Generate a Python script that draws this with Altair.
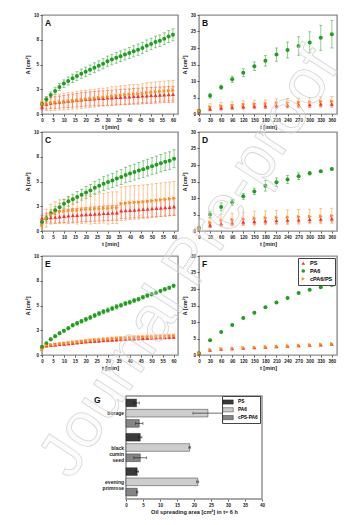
import altair as alt
import pandas as pd

FONT = "Liberation Sans"

# ---------------- data ----------------
samples = ["PS", "PA6", "cPA6/PS"]
sample_colors = ["#ff2b2b", "#1f9e1f", "#ff8c1a"]
sample_shapes = ["triangle-up", "circle", "triangle-right"]

t_min = [0, 2, 4, 6, 8, 10, 12, 14, 16, 18, 20, 22, 24, 26, 28, 30,
         32, 34, 36, 38, 40, 42, 44, 46, 48, 50, 52, 54, 56, 58, 60]
t_long = [0, 30, 60, 90, 120, 150, 180, 210, 240, 270, 300, 330, 360]
ticks_min = [0, 5, 10, 15, 20, 25, 30, 35, 40, 45, 50, 55, 60]
ticks_long = [0, 30, 60, 90, 120, 150, 180, 210, 240, 270, 300, 330, 360]
ticks_a10 = [0, 2.5, 5, 7.5, 10]
ticks_a30 = [0, 5, 10, 15, 20, 25, 30]

# Panel A
psA = [0.7, 1.0, 1.1, 1.15, 1.2, 1.25, 1.3, 1.35, 1.4, 1.45, 1.5, 1.52, 1.55, 1.58, 1.6, 1.63,
       1.65, 1.68, 1.7, 1.73, 1.75, 1.78, 1.8, 1.83, 1.85, 1.88, 1.9, 1.93, 1.95, 1.98, 2.0]
psA_err = [0.3, 0.5, 0.55, 0.6, 0.6, 0.62, 0.64, 0.66, 0.68, 0.7, 0.7, 0.72, 0.72, 0.74, 0.74, 0.75,
           0.76, 0.76, 0.77, 0.78, 0.78, 0.79, 0.8, 0.8, 0.8, 0.8, 0.8, 0.8, 0.8, 0.8, 0.8]
pa6A = [1.0, 1.5, 1.93, 2.33, 2.73, 3.07, 3.33, 3.6, 3.83, 4.07, 4.27, 4.47, 4.67, 4.87, 5.07, 5.33,
        5.5, 5.67, 5.83, 6.0, 6.17, 6.33, 6.5, 6.67, 6.9, 7.07, 7.27, 7.4, 7.6, 7.83, 8.0]
pa6A_err = [0.2, 0.25, 0.3, 0.33, 0.36, 0.38, 0.4, 0.42, 0.44, 0.46, 0.47, 0.48, 0.5, 0.5, 0.52, 0.52,
            0.53, 0.54, 0.55, 0.55, 0.56, 0.56, 0.57, 0.57, 0.58, 0.58, 0.59, 0.59, 0.6, 0.6, 0.6]
cpA = [1.0, 1.05, 1.1, 1.15, 1.2, 1.25, 1.3, 1.35, 1.4, 1.45, 1.5, 1.55, 1.6, 1.65, 1.7, 1.75,
       1.8, 1.85, 1.9, 1.95, 2.0, 2.02, 2.05, 2.1, 2.15, 2.2, 2.25, 2.28, 2.32, 2.36, 2.4]
cpA_err = [0.3, 0.7, 0.75, 0.8, 0.8, 0.85, 0.85, 0.85, 0.9, 0.9, 0.9, 0.9, 0.9, 0.9, 0.9, 0.9,
           0.95, 0.95, 0.95, 0.95, 0.95, 0.95, 0.95, 0.95, 1.0, 1.0, 1.0, 1.0, 1.0, 1.0, 1.0]

# Panel B
psB = [0.6, 1.6, 1.9, 2.1, 2.3, 2.4, 2.5, 2.6, 2.7, 2.8, 2.9, 3.0, 3.0]
psB_err = [0.2, 0.6, 0.7, 0.7, 0.8, 0.8, 0.8, 0.8, 0.8, 0.9, 0.9, 0.9, 0.9]
pa6B = [0.9, 5.5, 8.1, 10.5, 12.5, 14.5, 16.1, 18.0, 19.4, 20.6, 21.7, 23.1, 24.2]
pa6B_err = [0.3, 0.7, 0.6, 0.9, 1.2, 1.3, 1.6, 2.0, 2.4, 2.8, 3.2, 3.8, 4.2]
cpB = [0.9, 2.1, 2.4, 2.6, 2.8, 3.0, 3.1, 3.3, 3.4, 3.5, 3.6, 3.8, 3.9]
cpB_err = [0.2, 1.0, 1.1, 1.1, 1.2, 1.2, 1.2, 1.3, 1.3, 1.3, 1.4, 1.4, 1.4]

# Panel C
psC = [1.3, 1.3, 1.35, 1.4, 1.45, 1.5, 1.55, 1.58, 1.6, 1.63, 1.66, 1.7, 1.72, 1.75, 1.78, 1.8,
       1.83, 1.85, 2.05, 2.08, 2.1, 2.13, 2.16, 2.2, 2.23, 2.26, 2.3, 2.33, 2.37, 2.4, 2.45]
psC_err = [0.3, 0.5, 0.55, 0.6, 0.6, 0.65, 0.65, 0.7, 0.7, 0.7, 0.7, 0.72, 0.72, 0.74, 0.74, 0.75,
           0.75, 0.76, 0.78, 0.8, 0.8, 0.8, 0.82, 0.82, 0.84, 0.84, 0.85, 0.85, 0.86, 0.86, 0.87]
pa6C = [0.9, 1.3, 1.8, 2.1, 2.4, 2.75, 3.0, 3.2, 3.43, 3.67, 3.9, 4.1, 4.37, 4.58, 4.78, 4.95,
        5.1, 5.3, 5.45, 5.65, 5.8, 5.95, 6.1, 6.25, 6.4, 6.55, 6.7, 6.85, 7.0, 7.1, 7.3]
pa6C_err = [0.2, 0.3, 0.35, 0.4, 0.4, 0.45, 0.5, 0.5, 0.55, 0.55, 0.6, 0.6, 0.65, 0.65, 0.7, 0.7,
            0.72, 0.74, 0.76, 0.78, 0.8, 0.8, 0.82, 0.84, 0.85, 0.86, 0.87, 0.88, 0.89, 0.9, 0.9]
cpC = [0.6, 1.3, 1.7, 1.85, 1.95, 2.0, 2.05, 2.1, 2.1, 2.15, 2.2, 2.2, 2.25, 2.25, 2.3, 2.3,
       2.35, 2.35, 2.75, 2.8, 2.85, 2.9, 2.9, 2.95, 3.0, 3.05, 3.1, 3.15, 3.2, 3.25, 3.3]
cpC_err = [0.3, 0.9, 1.0, 1.1, 1.2, 1.2, 1.3, 1.3, 1.4, 1.4, 1.4, 1.5, 1.5, 1.5, 1.5, 1.6,
           1.6, 1.6, 1.7, 1.7, 1.7, 1.7, 1.7, 1.7, 1.7, 1.7, 1.7, 1.7, 1.7, 1.7, 1.7]

# Panel D
psD = [0.6, 1.8, 2.3, 2.5, 2.7, 2.9, 3.1, 3.2, 3.3, 3.4, 3.5, 3.6, 3.7]
psD_err = [0.2, 0.7, 0.8, 0.8, 0.8, 0.8, 0.9, 0.9, 0.9, 0.9, 0.9, 0.9, 0.9]
pa6D = [0.9, 5.0, 7.3, 8.7, 10.5, 12.0, 13.7, 14.8, 15.6, 16.6, 17.5, 18.1, 18.8]
pa6D_err = [0.3, 1.0, 1.2, 0.9, 0.9, 1.0, 1.6, 1.3, 1.2, 1.0, 0.5, 0.3, 0.3]
cpD = [0.8, 2.6, 3.3, 3.5, 3.7, 3.9, 4.0, 4.1, 4.2, 4.3, 4.4, 4.5, 4.6]
cpD_err = [0.2, 1.5, 1.8, 1.9, 2.0, 2.1, 2.1, 2.1, 2.2, 2.2, 2.2, 2.3, 2.3]

# Panel E
psE = [0.85, 0.93, 0.98, 1.03, 1.08, 1.12, 1.16, 1.2, 1.25, 1.3, 1.35, 1.38, 1.41, 1.45, 1.48, 1.51,
       1.54, 1.57, 1.6, 1.62, 1.64, 1.66, 1.68, 1.7, 1.72, 1.74, 1.76, 1.78, 1.8, 1.82, 1.84]
psE_err = [0.1, 0.11, 0.11, 0.12, 0.12, 0.13, 0.13, 0.14, 0.14, 0.14, 0.15, 0.15, 0.15, 0.16, 0.16, 0.16,
           0.17, 0.17, 0.17, 0.17, 0.18, 0.18, 0.18, 0.18, 0.18, 0.18, 0.18, 0.18, 0.18, 0.18, 0.18]
pa6E = [0.8, 1.17, 1.58, 1.9, 2.2, 2.45, 2.7, 3.0, 3.2, 3.4, 3.6, 3.8, 4.0, 4.2, 4.37, 4.53,
        4.7, 4.87, 5.03, 5.2, 5.33, 5.5, 5.64, 5.84, 6.0, 6.14, 6.3, 6.47, 6.64, 6.8, 7.0]
pa6E_err = [0.1, 0.15, 0.15, 0.15, 0.15, 0.15, 0.17, 0.17, 0.18, 0.18, 0.2, 0.2, 0.2, 0.2, 0.22, 0.22,
            0.22, 0.22, 0.2, 0.2, 0.2, 0.2, 0.18, 0.18, 0.18, 0.18, 0.16, 0.16, 0.16, 0.15, 0.15]
cpE = [0.55, 0.97, 1.02, 1.07, 1.12, 1.17, 1.22, 1.27, 1.32, 1.37, 1.42, 1.46, 1.5, 1.54, 1.57, 1.6,
       1.63, 1.66, 1.69, 1.71, 1.73, 1.75, 1.77, 1.79, 1.81, 1.83, 1.85, 1.87, 1.89, 1.9, 1.92]
cpE_err = [0.1, 0.12, 0.12, 0.13, 0.13, 0.14, 0.14, 0.15, 0.15, 0.15, 0.16, 0.16, 0.16, 0.17, 0.17, 0.17,
           0.18, 0.18, 0.18, 0.18, 0.19, 0.19, 0.19, 0.19, 0.2, 0.2, 0.2, 0.2, 0.2, 0.2, 0.2]

# Panel F
psF = [0.4, 1.5, 1.8, 2.0, 2.1, 2.3, 2.4, 2.6, 2.7, 2.9, 3.0, 3.1, 3.3]
pa6F = [0.5, 4.5, 7.0, 9.1, 11.2, 12.8, 14.5, 15.9, 17.3, 18.8, 19.8, 20.5, 21.2]
cpF = [0.5, 1.6, 1.9, 2.0, 2.2, 2.3, 2.5, 2.6, 2.7, 2.9, 3.0, 3.2, 3.4]
zero_err = [0, 0, 0, 0, 0, 0, 0, 0, 0, 0, 0, 0, 0]

# Panel G
g_cats = ["borage", "black cumin seed", "evening primrose"]
g_series = ["PS", "PA6", "cPS-PA6"]
g_colors = ["#3a3a3a", "#cdcdcd", "#858585"]
g_ps = [3.1, 4.2, 3.3]
g_ps_err = [0.8, 0.5, 0.4]
g_pa6 = [24.1, 18.7, 21.1]
g_pa6_err = [4.4, 0.2, 0.3]
g_cp = [3.9, 4.2, 3.3]
g_cp_err = [1.1, 1.9, 0.2]
g_ticks = [0, 5, 10, 15, 20, 25, 30, 35, 40]


# ---------------- helpers ----------------
def long_df(t, series):
    rows = []
    for name, (vals, errs) in zip(samples, series):
        assert len(vals) == len(t) == len(errs), name
        for ti, v, e in zip(t, vals, errs):
            rows.append({"t": ti, "A": v, "lo": v - e, "hi": v + e, "sample": name})
    return pd.DataFrame(rows)


def time_panel(df, letter, xmax, xticks, ymax, yticks, width, height, legend=None, errors=True):
    xs = alt.Scale(domain=[0, xmax], nice=False, zero=False)
    ys = alt.Scale(domain=[0, ymax], nice=False, zero=False)
    xax = alt.Axis(values=xticks, title="t [min]", format="~r", labelOverlap=False, labelFlush=False)
    yax = alt.Axis(values=yticks, title="A [cm²]", format="~r", labelOverlap=False, labelFlush=False)
    cscale = alt.Scale(domain=samples, range=sample_colors)
    sscale = alt.Scale(domain=samples, range=sample_shapes)
    base = alt.Chart(df)
    layers = []
    if errors:
        layers.append(
            base.mark_errorbar(ticks=True, size=3, thickness=0.9, opacity=0.55).encode(
                x=alt.X("t:Q", scale=xs, axis=xax),
                y=alt.Y("lo:Q", scale=ys, axis=yax),
                y2="hi:Q",
                color=alt.Color("sample:N", scale=cscale, legend=None),
            )
        )
    layers.append(
        base.mark_point(filled=True, size=16, opacity=1).encode(
            x=alt.X("t:Q", scale=xs, axis=xax),
            y=alt.Y("A:Q", scale=ys, axis=yax),
            color=alt.Color("sample:N", scale=cscale, legend=legend),
            shape=alt.Shape("sample:N", scale=sscale, legend=legend),
        )
    )
    layers.append(
        alt.Chart(pd.DataFrame({"L": [letter]})).mark_text(
            align="left", baseline="top", font=FONT, fontSize=8.5, fontWeight="bold", color="#111"
        ).encode(text="L:N", x=alt.value(3), y=alt.value(3.5))
    )
    return alt.layer(*layers).properties(width=width, height=height)


def spacer(w, h):
    return alt.Chart(pd.DataFrame({"a": [0]})).mark_point(opacity=0).encode(
        x=alt.X("a:Q", axis=None), y=alt.Y("a:Q", axis=None)
    ).properties(width=w, height=h, view=alt.ViewBackground(stroke=None))


dfA = long_df(t_min, [(psA, psA_err), (pa6A, pa6A_err), (cpA, cpA_err)])
dfB = long_df(t_long, [(psB, psB_err), (pa6B, pa6B_err), (cpB, cpB_err)])
dfC = long_df(t_min, [(psC, psC_err), (pa6C, pa6C_err), (cpC, cpC_err)])
dfD = long_df(t_long, [(psD, psD_err), (pa6D, pa6D_err), (cpD, cpD_err)])
dfE = long_df(t_min, [(psE, psE_err), (pa6E, pa6E_err), (cpE, cpE_err)])
dfF = long_df(t_long, [(psF, zero_err), (pa6F, zero_err), (cpF, zero_err)])

W1, W2, H = 136, 138, 99

pA = time_panel(dfA, "A", 62.3, ticks_min, 10, ticks_a10, W1, H)
pB = time_panel(dfB, "B", 374, ticks_long, 30, ticks_a30, W2, H)
pC = time_panel(dfC, "C", 61.8, ticks_min, 10, ticks_a10, W1, H)
pD = time_panel(dfD, "D", 374, ticks_long, 30, ticks_a30, W2, H)
pE = time_panel(dfE, "E", 62, ticks_min, 10, ticks_a10, W1, H)
f_legend = alt.Legend(
    title=None, orient="top-right", offset=2, padding=2.5, strokeColor="#444", fillColor="white",
    labelFontSize=5.5, labelFont=FONT, labelFontWeight="bold", symbolSize=13, rowPadding=0.8,
    symbolStrokeWidth=0, labelOffset=4,
)
pF = time_panel(dfF, "F", 374, ticks_long, 30, ticks_a30, W2, H, legend=f_legend, errors=False)

# ---- panel G ----
g_rows = []
for s, vals, errs in [("PS", g_ps, g_ps_err), ("PA6", g_pa6, g_pa6_err), ("cPS-PA6", g_cp, g_cp_err)]:
    for c, v, e in zip(g_cats, vals, errs):
        g_rows.append({"cat": c, "series": s, "val": v, "lo": v - e, "hi": v + e})
g_df = pd.DataFrame(g_rows)

GW, GH = 136, 103
gx = alt.Scale(domain=[0, 40], range=[84, 220], nice=False, zero=True)
gy = alt.Scale(domain=g_cats, paddingInner=0.12, paddingOuter=0.06)
gyo = alt.Scale(domain=g_series, paddingInner=0.25, paddingOuter=0.1)
gx_axis = alt.Axis(values=g_ticks, format="~r", labelOverlap=False, labelFlush=False,
                   title="Oil spreading area [cm²] in t= 6 h")
gy_axis = alt.Axis(title=None, offset=-84, ticks=False, labelPadding=2.5,
                   labelExpr="split(datum.value, ' ')", labelFontSize=5, labelLineHeight=6)

g_bars = alt.Chart(g_df).mark_bar(stroke="#111", strokeWidth=0.4).encode(
    x=alt.X("val:Q", scale=gx, axis=gx_axis),
    y=alt.Y("cat:N", scale=gy, axis=gy_axis),
    yOffset=alt.YOffset("series:N", scale=gyo),
    color=alt.Color("series:N", scale=alt.Scale(domain=g_series, range=g_colors),
                    legend=alt.Legend(title=None, orient="none", legendX=180, legendY=0, padding=2,
                                      strokeColor="#444", fillColor="white", labelFontSize=4.8,
                                      labelFont=FONT, labelFontWeight="bold",
                                      symbolType="M-1.5,-0.6L1.5,-0.6L1.5,0.6L-1.5,0.6Z",
                                      symbolSize=49, symbolStrokeColor="#111",
                                      symbolStrokeWidth=0.4, rowPadding=0.8, labelOffset=6)),
)
g_err = alt.Chart(g_df).mark_rule(color="#111", strokeWidth=0.6).encode(
    x=alt.X("lo:Q", scale=gx, axis=gx_axis), x2="hi:Q",
    y=alt.Y("cat:N", scale=gy, axis=gy_axis),
    yOffset=alt.YOffset("series:N", scale=gyo),
)
g_caps = alt.Chart(g_df).transform_fold(["lo", "hi"]).mark_tick(
    color="#111", size=3, thickness=0.6, orient="vertical"
).encode(
    x=alt.X("value:Q", scale=gx, axis=gx_axis),
    y=alt.Y("cat:N", scale=gy, axis=gy_axis),
    yOffset=alt.YOffset("series:N", scale=gyo),
)
g_frame = alt.Chart(pd.DataFrame({"a": [0]})).mark_rect(
    fillOpacity=0, stroke="#8c8c8c", strokeWidth=1.4
).encode(
    x=alt.XDatum(0, scale=gx, axis=gx_axis), x2=alt.X2Datum(40),
    y=alt.value(0), y2=alt.value(GH),
)
g_letter = alt.Chart(pd.DataFrame({"L": ["G"]})).mark_text(
    align="left", baseline="top", font=FONT, fontSize=8.5, fontWeight="bold", color="#111"
).encode(text="L:N", x=alt.value(52), y=alt.value(-0.5))
watermark = alt.Chart(pd.DataFrame({"w": ["Journal Pre-proof"]})).mark_text(
    angle=303, font=FONT, fontSize=64, align="center", baseline="middle",
    fill="#eeeeee", fillOpacity=0.25, stroke="#cccccc", strokeWidth=0.8, strokeOpacity=0.8,
).encode(text="w:N", x=alt.value(148), y=alt.value(-133))

pG = alt.layer(g_frame, g_bars, g_err, g_caps, g_letter, watermark).properties(
    width=GW, height=GH, view=alt.ViewBackground(stroke=None)
)

chart = alt.concat(
    pA, pB,
    spacer(W1, 18), spacer(W2, 18),
    pC, pD,
    spacer(W1, 25), spacer(W2, 25),
    pE, pF,
    spacer(W1, 41), spacer(W2, 41),
    pG,
    columns=2, spacing={"row": 0, "column": 21}, bounds="flush", align="each",
).resolve_scale(
    color="independent", shape="independent", x="independent", y="independent"
).properties(
    padding={"left": 17, "top": 3, "right": 2, "bottom": 2}
).configure_axis(
    labelFont=FONT, titleFont=FONT, labelFontSize=4.6, titleFontSize=5.6,
    labelFontWeight="bold", titleFontWeight="bold", labelColor="#222", titleColor="#222",
    tickColor="#333", tickSize=2, tickWidth=0.8, domain=False, grid=False,
    labelPadding=1.5, titlePadding=2.5,
).configure_view(stroke="#8c8c8c", strokeWidth=1.4)

chart.save("out.html", embed_options={"renderer": "svg", "actions": False})
